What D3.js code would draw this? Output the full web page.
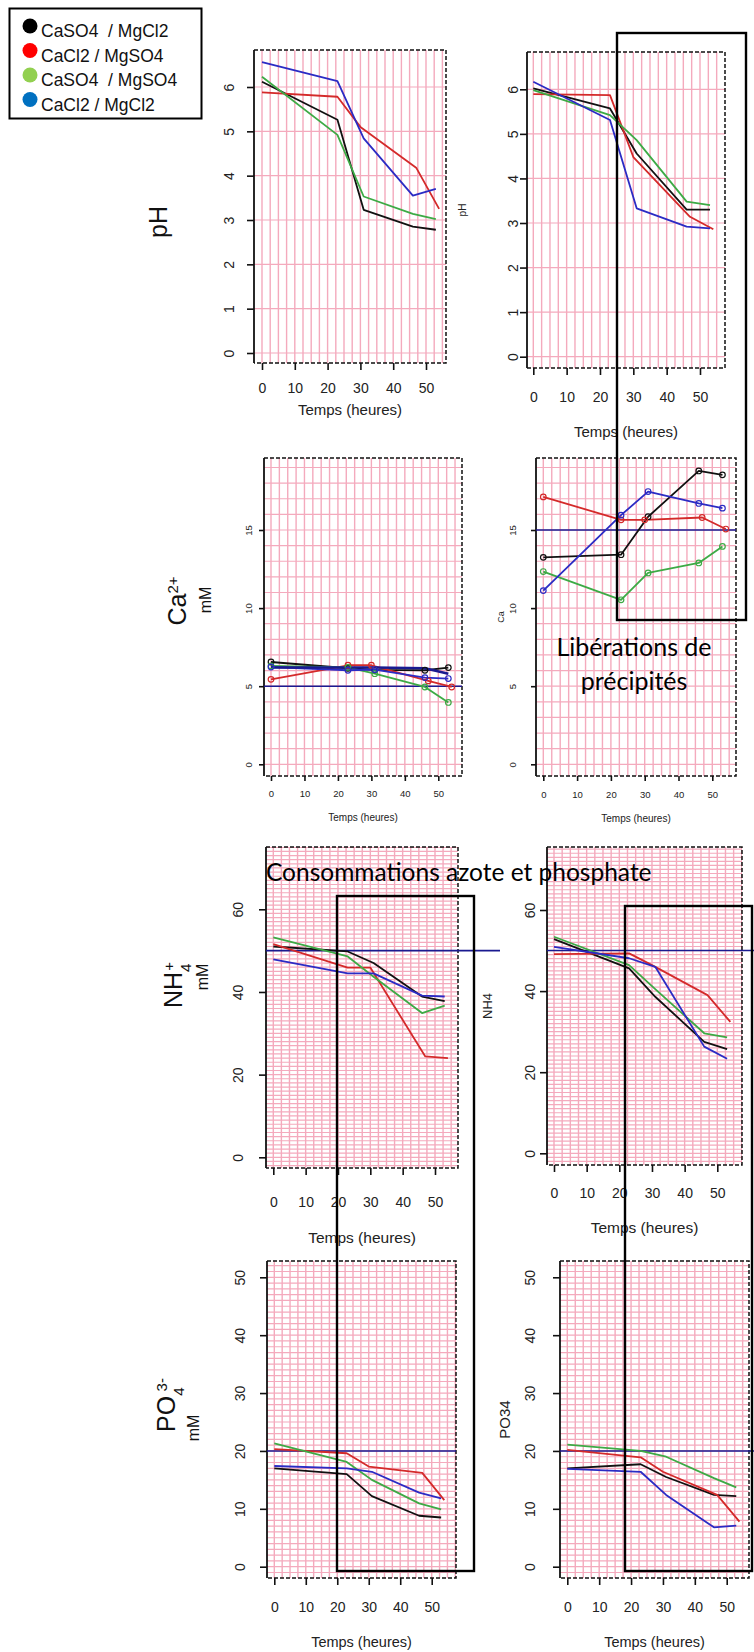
<!DOCTYPE html>
<html><head><meta charset="utf-8">
<script src="https://cdn.jsdelivr.net/npm/d3@7"></script>
<style>body{margin:0;background:#fff} svg{display:block}</style>
</head><body>
<script>
// ---------- DATA ----------
const hours = [0, 23, 31, 46, 53];
const hoursRed = [0, 23, 30, 47, 54];
const seriesNames = ["CaSO4  / MgCl2", "CaCl2 / MgSO4", "CaSO4  / MgSO4", "CaCl2 / MgCl2"];
const xTicks = [0, 10, 20, 30, 40, 50];
const xTitle = "Temps (heures)";

const phTicks = [0, 1, 2, 3, 4, 5, 6];
const caTicks = [0, 5, 10, 15];
const nh4Ticks = [0, 20, 40, 60];
const po4Ticks = [0, 10, 20, 30, 40, 50];

const phLeftBlack = [6.12, 5.26, 3.23, 2.85, 2.78];
const phLeftRed   = [5.88, 5.78, 5.10, 4.18, 3.25];
const phLeftGreen = [6.23, 4.92, 3.53, 3.14, 3.02];
const phLeftBlue  = [6.56, 6.13, 4.84, 3.55, 3.70];

const phRightBlack = [6.02, 5.57, 4.56, 3.30, 3.30];
const phRightRed   = [5.89, 5.87, 4.48, 3.14, 2.86];
const phRightGreen = [5.98, 5.42, 4.86, 3.48, 3.40];
const phRightBlue  = [6.17, 5.31, 3.33, 2.92, 2.88];

const caLeftBlack = [6.55, 6.15, 6.05, 6.02, 6.19];
const caLeftRed   = [5.44, 6.34, 6.34, 5.34, 4.95];
const caLeftGreen = [6.30, 6.20, 5.80, 4.95, 3.96];
const caLeftBlue  = [6.23, 6.02, 6.06, 5.55, 5.49];
const caLeftBlueMean = [6.20, 6.20, 6.20, 6.15, 5.80];

const caRightBlack = [13.25, 13.42, 15.85, 18.78, 18.53];
const caRightRed   = [17.12, 15.65, 15.65, 15.80, 15.06];
const caRightGreen = [12.34, 10.53, 12.25, 12.89, 13.95];
const caRightBlue  = [11.12, 15.95, 17.46, 16.70, 16.40];

const nh4LeftBlack = [51.0, 49.8, 47.0, 38.9, 37.8];
const nh4LeftRed   = [51.6, 45.9, 45.9, 24.4, 24.0];
const nh4LeftGreen = [53.2, 48.6, 43.7, 34.9, 36.7];
const nh4LeftBlue  = [47.9, 44.5, 44.5, 39.1, 38.9];

const nh4RightBlack = [52.8, 45.6, 38.6, 27.5, 25.7];
const nh4RightRed   = [49.1, 49.3, 46.4, 39.0, 32.4];
const nh4RightGreen = [53.4, 46.4, 40.5, 29.6, 28.6];
const nh4RightBlue  = [50.9, 48.1, 46.0, 26.3, 23.3];

const po4LeftBlack = [17.0, 16.0, 12.2, 8.8, 8.5];
const po4LeftRed   = [20.3, 19.6, 17.3, 16.2, 11.5];
const po4LeftGreen = [21.3, 18.1, 15.0, 10.95, 9.9];
const po4LeftBlue  = [17.4, 17.0, 16.4, 12.8, 11.8];

const po4RightBlack = [17.0, 17.7, 15.5, 12.4, 12.2];
const po4RightRed   = [20.2, 18.9, 16.4, 12.4, 7.8];
const po4RightGreen = [21.1, 20.0, 19.0, 15.3, 13.7];
const po4RightBlue  = [16.9, 16.4, 12.4, 6.8, 7.1];

const caRef = [5, 15];
const nh4Ref = 50;
const po4Ref = 20;

// ---------- STYLE ----------
const lineColors = {black: "#111111", red: "#d42a2a", green: "#3daa45", blue: "#2b2bc4", navy: "#1a1a90"};
const legendColors = ["#000000", "#ff0000", "#92d050", "#0070c0"];
const gridColor = "#f4aabd";
const FONT = "'Liberation Sans', Arial, sans-serif";

const W = 754, H = 1652;
const svg = d3.select("body").append("svg").attr("width", W).attr("height", H)
  .style("font-family", FONT);

function mk(black, red, green, blue) {
  return [
    {key: "black", t: hours, v: black},
    {key: "red", t: hoursRed, v: red},
    {key: "green", t: hours, v: green},
    {key: "blue", t: hours, v: blue}
  ];
}

const panels = [
  {series: mk(phLeftBlack, phLeftRed, phLeftGreen, phLeftBlue), yTicks: phTicks,
   l:254, r:446, t:50, b:363, x0:262, x50:426, y0:353, yMaxPx:87, hStep:1,
   xLabY:388, titleY:410, yLabX:229, tickFont:14, titleFont:15, tickLen:7},
  {series: mk(phRightBlack, phRightRed, phRightGreen, phRightBlue), yTicks: phTicks,
   l:527, r:725, t:52, b:368, x0:533.3, x50:700, y0:356.7, yMaxPx:89.3, hStep:1,
   xLabY:397, titleY:432, yLabX:513, tickFont:14, titleFont:15, tickLen:7,
   ylab: "pH", ylabX: 462, ylabFont: 10},
  {series: mk(caLeftBlack, caLeftRed, caLeftGreen, caLeftBlue)
     .concat([{key:"navy", t: hours, v: caLeftBlueMean, width: 2.6, noMarker: true}]),
   yTicks: caTicks, markers: true, ref: caRef[0],
   l:264, r:462, t:458, b:776, x0:271, x50:438.3, y0:764.3, yMaxPx:530, hStep:1,
   xLabY:794, titleY:817, yLabX:249, tickFont:9.5, titleFont:10, tickLen:5},
  {series: mk(caRightBlack, caRightRed, caRightGreen, caRightBlue),
   yTicks: caTicks, markers: true, ref: caRef[1],
   l:536, r:736, t:458, b:776, x0:543.3, x50:712.3, y0:764.3, yMaxPx:530, hStep:1,
   xLabY:795, titleY:818, yLabX:513, tickFont:9.5, titleFont:10, tickLen:5,
   ylab: "Ca", ylabX: 501, ylabFont: 9},
  {series: mk(nh4LeftBlack, nh4LeftRed, nh4LeftGreen, nh4LeftBlue), yTicks: nh4Ticks, ref: nh4Ref, refR: 500,
   l:266, r:458, t:847, b:1168, x0:273.3, x50:435, y0:1157.3, yMaxPx:909.3, hStep:1,
   xLabY:1202, titleY:1238, yLabX:238, tickFont:14, titleFont:15.5, tickLen:7},
  {series: mk(nh4RightBlack, nh4RightRed, nh4RightGreen, nh4RightBlue), yTicks: nh4Ticks, ref: nh4Ref, refR: 754,
   l:547, r:742, t:847, b:1165, x0:554, x50:717.3, y0:1153.3, yMaxPx:910, hStep:1,
   xLabY:1193, titleY:1228, yLabX:530, tickFont:14, titleFont:15.5, tickLen:7,
   ylab: "NH4", ylabX: 487, ylabFont: 13},
  {series: mk(po4LeftBlack, po4LeftRed, po4LeftGreen, po4LeftBlue), yTicks: po4Ticks, ref: po4Ref,
   l:267, r:456, t:1261, b:1578, x0:274.3, x50:431.7, y0:1566.7, yMaxPx:1277.3, hStep:1,
   xLabY:1607, titleY:1642, yLabX:240, tickFont:14, titleFont:14.5, tickLen:7},
  {series: mk(po4RightBlack, po4RightRed, po4RightGreen, po4RightBlue), yTicks: po4Ticks, ref: po4Ref, refR: 754,
   l:560, r:749, t:1261, b:1578, x0:567.3, x50:726.7, y0:1566.7, yMaxPx:1277.3, hStep:1,
   xLabY:1607, titleY:1642, yLabX:530, tickFont:14, titleFont:14.5, tickLen:7,
   ylab: "PO34", ylabX: 505, ylabFont: 15}
];

const fmt = d3.format("d");

panels.forEach((p, i) => {
  const yMax = p.yTicks[p.yTicks.length - 1];
  const x = d3.scaleLinear().domain([0, 50]).range([p.x0, p.x50]);
  const y = d3.scaleLinear().domain([0, yMax]).range([p.y0, p.yMaxPx]);
  const g = svg.append("g");
  const clipId = "clip" + i;
  g.append("clipPath").attr("id", clipId).append("rect")
    .attr("x", p.l).attr("y", p.t).attr("width", p.r - p.l).attr("height", p.b - p.t);
  const grid = g.append("g").attr("clip-path", `url(#${clipId})`);
  const xv = d3.range(Math.ceil(x.invert(p.l) / 2.5) * 2.5, x.invert(p.r), 2.5);
  grid.selectAll("line.v").data(xv).join("line")
    .attr("x1", d => x(d)).attr("x2", d => x(d)).attr("y1", p.t).attr("y2", p.b)
    .attr("stroke", gridColor).attr("stroke-width", 1.4);
  const yv = d3.range(Math.ceil(y.invert(p.b) / p.hStep) * p.hStep, y.invert(p.t), p.hStep);
  grid.selectAll("line.h").data(yv).join("line")
    .attr("x1", p.l).attr("x2", p.r).attr("y1", d => y(d)).attr("y2", d => y(d))
    .attr("stroke", gridColor).attr("stroke-width", 1.2);

  // frame
  g.append("path")
    .attr("d", `M${p.l},${p.t}H${p.r}V${p.b}H${p.l}`)
    .attr("fill", "none").attr("stroke", "#111").attr("stroke-width", 1.5)
    .attr("stroke-dasharray", "4,2");
  g.append("line").attr("x1", p.l).attr("x2", p.l).attr("y1", p.t).attr("y2", p.b)
    .attr("stroke", "#111").attr("stroke-width", 1.8);

  // reference line
  if (p.ref !== undefined) {
    g.append("line").attr("x1", p.l).attr("x2", p.refR || p.r)
      .attr("y1", y(p.ref)).attr("y2", y(p.ref))
      .attr("stroke", lineColors.navy).attr("stroke-width", 1.6);
  }

  // series
  const line = d3.line().x(d => x(d[0])).y(d => y(d[1]));
  p.series.forEach(s => {
    const pts = s.t.map((t, k) => [t, s.v[k]]);
    g.append("path").attr("d", line(pts)).attr("fill", "none")
      .attr("stroke", lineColors[s.key]).attr("stroke-width", s.width || 1.8)
      .attr("stroke-linejoin", "round");
  });
  if (p.markers) {
    p.series.filter(s => !s.noMarker).forEach(s => {
      const pts = s.t.map((t, k) => [t, s.v[k]]);
      g.selectAll(null).data(pts).join("circle")
        .attr("cx", d => x(d[0])).attr("cy", d => y(d[1])).attr("r", 2.8)
        .attr("fill", "none").attr("stroke", lineColors[s.key]).attr("stroke-width", 1.2);
    });
  }

  // axes
  const ax = g.append("g").attr("transform", `translate(0,${p.b})`)
    .call(d3.axisBottom(x).tickValues(xTicks).tickFormat(fmt).tickSize(p.tickLen).tickSizeOuter(0));
  ax.select(".domain").remove();
  ax.selectAll(".tick line").attr("stroke", "#111").attr("stroke-width", 1.6);
  ax.selectAll(".tick text").attr("y", p.xLabY - p.b).attr("dy", "0.35em")
    .attr("font-size", p.tickFont).attr("font-family", FONT).attr("fill", "#222");

  const ay = g.append("g").attr("transform", `translate(${p.l},0)`)
    .call(d3.axisLeft(y).tickValues(p.yTicks).tickFormat(fmt).tickSize(p.tickLen).tickSizeOuter(0));
  ay.select(".domain").remove();
  ay.selectAll(".tick line").attr("stroke", "#111").attr("stroke-width", 1.6);
  ay.selectAll(".tick text").attr("x", 0).attr("y", 0).attr("dy", "0.35em")
    .attr("text-anchor", "middle")
    .attr("transform", `translate(${p.yLabX - p.l},0) rotate(-90)`)
    .attr("font-size", p.tickFont).attr("font-family", FONT).attr("fill", "#222");

  g.append("text").attr("x", (p.l + p.r) / 2).attr("y", p.titleY).attr("dy", "0.35em")
    .attr("text-anchor", "middle").attr("font-size", p.titleFont).attr("fill", "#222")
    .text(xTitle);

  if (p.ylab) {
    g.append("text").attr("transform", `translate(${p.ylabX},${(p.t + p.b) / 2}) rotate(-90)`)
      .attr("dy", "0.35em").attr("text-anchor", "middle").attr("font-size", p.ylabFont)
      .attr("fill", "#222").text(p.ylab);
  }
});

// ---------- Left column labels ----------
function rotLabel(xc, yc, parts, size) {
  const t = svg.append("text").attr("transform", `translate(${xc},${yc}) rotate(-90)`)
    .attr("text-anchor", "middle").attr("dy", "0.35em").attr("font-size", size).attr("fill", "#111");
  parts.forEach(pt => {
    const ts = t.append("tspan").text(pt.s);
    if (pt.sup) ts.attr("baseline-shift", "super").attr("font-size", size * 0.6);
    if (pt.sub) ts.attr("baseline-shift", "sub").attr("font-size", size * 0.6);
    if (pt.dx) ts.attr("dx", pt.dx);
  });
}
rotLabel(158, 222, [{s: "pH"}], 25);
rotLabel(177, 601, [{s: "Ca"}, {s: "2+", sup: true}], 25);
rotLabel(205, 600, [{s: "mM"}], 16);
rotLabel(173, 985, [{s: "NH"}, {s: "4", sub: true}, {s: "+", sup: true, dx: -7}], 25);
rotLabel(202, 977, [{s: "mM"}], 16);
rotLabel(166, 1405, [{s: "PO"}, {s: "4", sub: true}, {s: "3-", sup: true, dx: -4}], 25);
rotLabel(193, 1428, [{s: "mM"}], 16);

// ---------- Annotation boxes & texts ----------
const boxes = [
  {x1: 617, y1: 33, x2: 746, y2: 620},
  {x1: 337, y1: 896, x2: 474, y2: 1571},
  {x1: 625, y1: 906, x2: 752, y2: 1571}
];
svg.selectAll("rect.box").data(boxes).join("rect")
  .attr("x", d => d.x1).attr("y", d => d.y1)
  .attr("width", d => d.x2 - d.x1).attr("height", d => d.y2 - d.y1)
  .attr("fill", "none").attr("stroke", "#000").attr("stroke-width", 2.4);

const annFont = "Lato, 'Open Sans', sans-serif";
svg.append("text").attr("x", 634).attr("y", 656).attr("text-anchor", "middle")
  .attr("font-family", annFont).attr("font-size", 25).attr("fill", "#000").text("Libérations de");
svg.append("text").attr("x", 634).attr("y", 690).attr("text-anchor", "middle")
  .attr("font-family", annFont).attr("font-size", 25).attr("fill", "#000").text("précipités");
svg.append("text").attr("x", 266).attr("y", 881).attr("text-anchor", "start")
  .attr("font-family", annFont).attr("font-size", 24.5).attr("fill", "#000")
  .text("Consommations azote et phosphate");

// ---------- Legend ----------
const lg = svg.append("g");
lg.append("rect").attr("x", 9.5).attr("y", 8.5).attr("width", 192).attr("height", 110)
  .attr("fill", "#fff").attr("stroke", "#000").attr("stroke-width", 2);
const rows = lg.selectAll("g.row").data(seriesNames).join("g")
  .attr("transform", (d, i) => `translate(0,${26 + i * 24.5})`);
rows.append("circle").attr("cx", 30).attr("cy", 0).attr("r", 7.5)
  .attr("fill", (d, i) => legendColors[i]);
rows.append("text").attr("x", 41).attr("y", 11).attr("font-size", 17.5)
  .attr("fill", "#111").style("white-space", "pre").text(d => d);
</script>
</body></html>
